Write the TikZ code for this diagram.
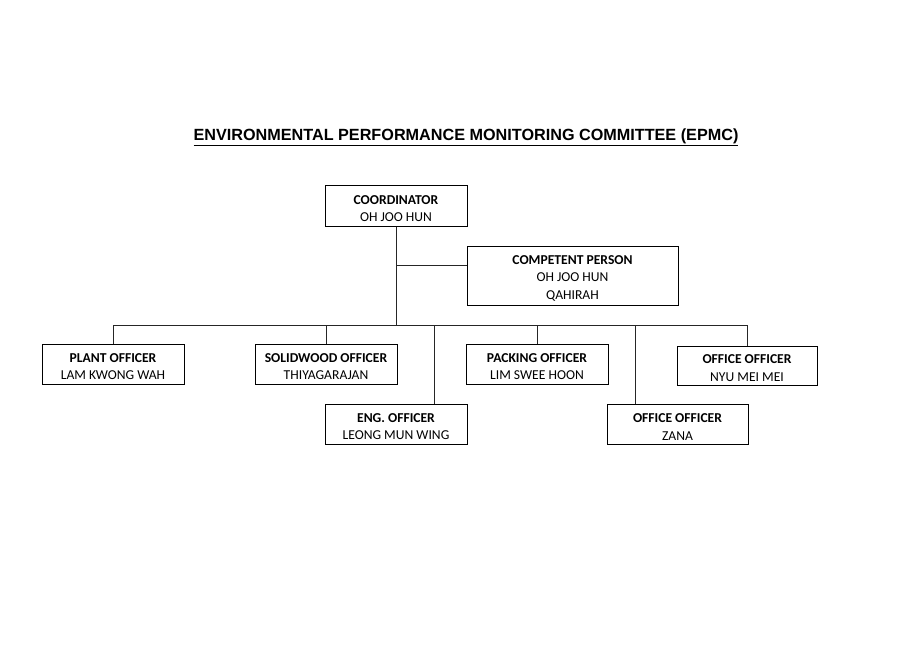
\documentclass[tikz,border=0pt]{standalone}
\usepackage{fontspec}
\setmainfont{Carlito}
\newfontfamily\arialfont{Liberation Sans}
\newcommand\boxhead[1]{\rule{0pt}{14.5pt}\textbf{#1}}
\begin{document}
\begin{tikzpicture}[x=1pt,y=-1pt,
  box/.style={draw, line width=1pt, inner sep=0pt, align=center,
    minimum width=142, minimum height=40, font=\fontsize{13.6}{17.5}\selectfont},
  link/.style={draw, line width=0.7pt, black!85}]
\useasboundingbox[fill=white] (0,0) rectangle (900,650);
\node[font=\arialfont\bfseries\fontsize{16.2}{19}\selectfont] (title) at (466,137)
  {\underline{ENVIRONMENTAL PERFORMANCE MONITORING COMMITTEE (EPMC)}};
\node[box] (coord) at (396,206) {\boxhead{COORDINATOR}\\OH JOO HUN};
\node[box, minimum width=211, minimum height=59] (comp) at (572.5,275.5)
  {\boxhead{COMPETENT PERSON}\\OH JOO HUN\\QAHIRAH};
\node[box] (plant) at (113,364) {\boxhead{PLANT OFFICER}\\LAM KWONG WAH};
\node[box] (solid) at (326,364) {\boxhead{SOLIDWOOD OFFICER}\\THIYAGARAJAN};
\node[box] (eng) at (396,424) {\boxhead{ENG. OFFICER}\\LEONG MUN WING};
\node[box] (pack) at (537,364) {\boxhead{PACKING OFFICER}\\LIM SWEE HOON};
\node[box, minimum width=141] (zana) at (677.5,424) {\boxhead{OFFICE OFFICER}\\ZANA};
\node[box, minimum width=140, minimum height=39] (nyu) at (747,365.5) {\boxhead{OFFICE OFFICER}\\NYU MEI MEI};
\coordinate (bus) at (396,325);
\coordinate (j) at (396,265);
\coordinate (engdrop) at (434,325);
\coordinate (zanadrop) at (635,325);
\draw[link] (coord.south) -- (bus);
\draw[link] (j) -- (j -| comp.west);
\draw[link] (plant.north |- bus) -- (nyu.north |- bus);
\draw[link] (plant.north) -- (plant.north |- bus);
\draw[link] (solid.north) -- (solid.north |- bus);
\draw[link] (pack.north) -- (pack.north |- bus);
\draw[link] (nyu.north) -- (nyu.north |- bus);
\draw[link] (engdrop) -- (engdrop |- eng.north);
\draw[link] (zanadrop) -- (zanadrop |- zana.north);
\end{tikzpicture}
\end{document}
